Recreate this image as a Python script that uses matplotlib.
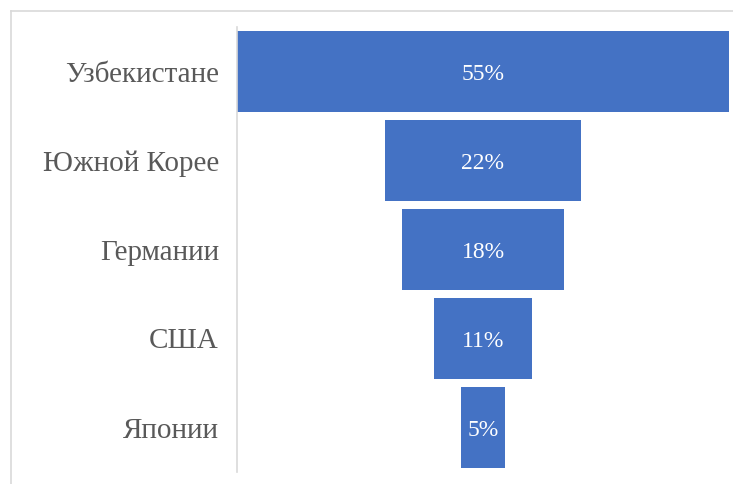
import matplotlib
matplotlib.use("Agg")
import matplotlib.pyplot as plt
from matplotlib.lines import Line2D

categories = ["Узбекистане", "Южной Корее", "Германии", "США", "Японии"]
shares = [55, 22, 18, 11, 5]

W, H = 733, 484
fig = plt.figure(figsize=(W / 100, H / 100), dpi=100)

# chart frame (top and left edges visible)
fig.add_artist(Line2D([11 / W, 1.0], [1 - 11 / H, 1 - 11 / H], color="#d9d9d9", lw=1.2,
                      transform=fig.transFigure))
fig.add_artist(Line2D([11 / W, 11 / W], [1 - 11 / H, 0.0], color="#d9d9d9", lw=1.2,
                      transform=fig.transFigure))

ax = fig.add_axes([237 / W, 1 - 472 / H, (729 - 237) / W, (472 - 27) / H])

n = len(categories)
ys = list(range(n))
lefts = [-v / 2 for v in shares]
ax.barh(ys, shares, left=lefts, height=0.91, color="#4472C4", edgecolor="none")

for y, v in zip(ys, shares):
    ax.text(0, y + 0.03, f"{v}%", ha="center", va="center", color="white",
            fontsize=17, family="Liberation Serif")

half = max(shares) / 2
ax.set_xlim(-half, half)
ax.set_ylim(n - 0.5, -0.5)
ax.set_yticks(ys)
ax.set_yticklabels(categories, family="Liberation Serif", fontsize=21, color="#595959")
ax.tick_params(axis="y", length=0, pad=13)
ax.set_xticks([])
for s in ["top", "right", "bottom"]:
    ax.spines[s].set_visible(False)
ax.spines["left"].set_color("#d9d9d9")
ax.spines["left"].set_linewidth(1.2)

fig.savefig("out.png", dpi=100)
